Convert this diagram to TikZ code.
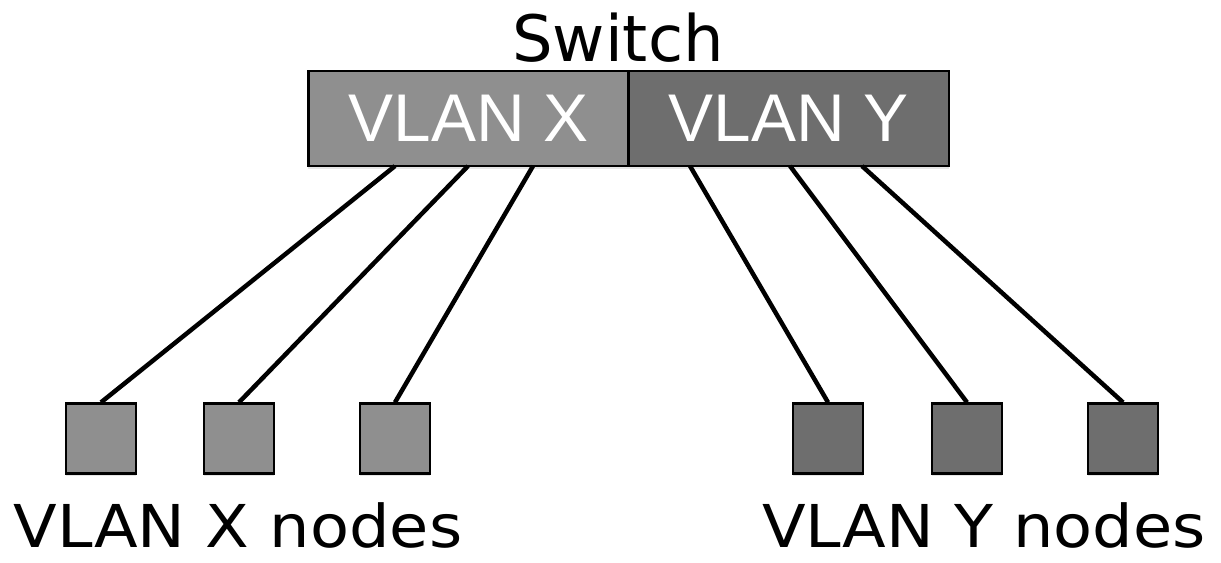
\documentclass[tikz,border=0pt]{standalone}
\usepackage{fontspec}
\setmainfont{DejaVu Sans}
\newfontfamily\boxfont{Liberation Sans}
\usetikzlibrary{
  positioning,
  shadows,
  calc}
\definecolor{vlanxgray}{HTML}{8F8F8F}
\definecolor{vlanygray}{HTML}{6E6E6E}

\begin{document}
\begin{tikzpicture}[
      x=0.025cm, y=-0.025cm,
      big-text/.style={
        font=\fontsize{45.5}{52}\selectfont,
        inner sep=0pt,
      },
      group-text/.style={
        font=\fontsize{42}{50}\selectfont,
        inner sep=0pt,
        xscale=1.08,
        transform shape,
      },
      block/.style={
        rectangle,
        draw,
        line width=1.6pt,
        drop shadow={opacity=0.2, shadow xshift=0pt, shadow yshift=-2pt},
      },
      vlan/.style={
        minimum width=8cm,
        minimum height=2.375cm,
        text=white,
        font=\boxfont\fontsize{48}{52}\selectfont,
      },
      host/.style={
        minimum size=1.75cm,
        inner sep=0pt,
      },
      link/.style={
        line width=3.2pt,
      },
    ]
    \useasboundingbox (0,0) rectangle (1221,562);
    \coordinate (vlanx) at (468.5,118.5);
    \coordinate (vlany) at (789,118.5);
    \node[block, vlan, fill=vlanxgray] (vlanx-node) at (vlanx) {VLAN X};
    \node[block, vlan, fill=vlanygray] (vlany-node) at (vlany) {VLAN Y};
    \node[big-text, anchor=base] (switch-label) at (618,61) {Switch};
    % hosts
    \foreach \name/\xpos in {1/101, 2/239, 3/395}
      \node[block, host, fill=vlanxgray] (xhost\name-node) at (\xpos,438.5) {};
    \foreach \name/\xpos in {1/828, 2/967, 3/1123}
      \node[block, host, fill=vlanygray] (yhost\name-node) at (\xpos,438.5) {};
    \node[group-text, anchor=base] (xhosts-label) at (238,547) {VLAN X nodes};
    \node[group-text, anchor=base] (yhosts-label) at (984,547) {VLAN Y nodes};
    % ports on the switch
    \coordinate (xport1) at (395,166);
    \coordinate (xport2) at (468,166);
    \coordinate (xport3) at (533,166);
    \coordinate (yport1) at (690,166);
    \coordinate (yport2) at (790,166);
    \coordinate (yport3) at (862,166);
    \foreach \i in {1,2,3} {
      \draw[link] (xport\i) -- (xhost\i-node.north);
      \draw[link] (yport\i) -- (yhost\i-node.north);
    }
  \end{tikzpicture}
\end{document}
